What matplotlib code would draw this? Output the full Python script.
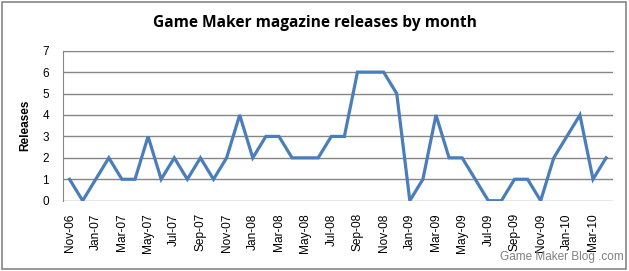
import matplotlib
matplotlib.use('Agg')
import matplotlib.pyplot as plt
from matplotlib.patches import Rectangle

# Releases per month, Nov-06 .. Apr-10
months = ['Nov-06', 'Dec-06', 'Jan-07', 'Feb-07', 'Mar-07', 'Apr-07', 'May-07', 'Jun-07',
          'Jul-07', 'Aug-07', 'Sep-07', 'Oct-07', 'Nov-07', 'Dec-07', 'Jan-08', 'Feb-08',
          'Mar-08', 'Apr-08', 'May-08', 'Jun-08', 'Jul-08', 'Aug-08', 'Sep-08', 'Oct-08',
          'Nov-08', 'Dec-08', 'Jan-09', 'Feb-09', 'Mar-09', 'Apr-09', 'May-09', 'Jun-09',
          'Jul-09', 'Aug-09', 'Sep-09', 'Oct-09', 'Nov-09', 'Dec-09', 'Jan-10', 'Feb-10',
          'Mar-10', 'Apr-10']
releases = [1, 0, 1, 2, 1, 1, 3, 1, 2, 1, 2, 1, 2, 4, 2, 3, 3, 2, 2, 2, 3, 3,
            6, 6, 6, 5, 0, 1, 4, 2, 2, 1, 0, 0, 1, 1, 0, 2, 3, 4, 1, 2]
y_ticks = list(range(0, 8))

fig = plt.figure(figsize=(6.29, 2.71), dpi=100)
ax = fig.add_axes([0.1002, 0.2594, 0.8738, 0.5535])

x = list(range(len(months)))
ax.plot(x, releases, color='#4A7EBB', lw=2.3, solid_joinstyle='miter')

ax.set_xlim(-0.5, len(months) - 0.5)
ax.set_ylim(0, 7)
ax.set_yticks(y_ticks)
ax.set_yticklabels([str(v) for v in y_ticks], fontsize=8.5, family='Liberation Sans')
ax.set_xticks(x[::2])
ax.set_xticklabels(months[::2], rotation=90, fontsize=8.6, family='Liberation Sans')
ax.tick_params(axis='x', length=0, pad=9)
ax.tick_params(axis='y', length=0, pad=10)

ax.grid(True, axis='y', color='#868686', lw=1)
ax.set_axisbelow(True)
for side in ['right', 'bottom']:
    ax.spines[side].set_visible(False)
ax.spines['left'].set_color('#868686')
ax.spines['top'].set_color('#868686')

ax.set_ylabel('Releases', fontsize=8.5, fontweight='bold', family='Liberation Sans', labelpad=8)

fig.text(0.5, 0.915, 'Game Maker magazine releases by month', ha='center', va='center',
         fontsize=11.2, fontweight='bold', family='Open Sans')
fig.text(0.992, 0.03, 'Game Maker Blog .com', ha='right', va='bottom',
         fontsize=8.5, color='#808080', family='Liberation Sans')

# outer chart border
fig.patches.append(Rectangle((0.003, 0.008), 0.992, 0.986, transform=fig.transFigure,
                             fill=False, edgecolor='#868686', lw=1.2))

fig.savefig('out.png', dpi=100)
